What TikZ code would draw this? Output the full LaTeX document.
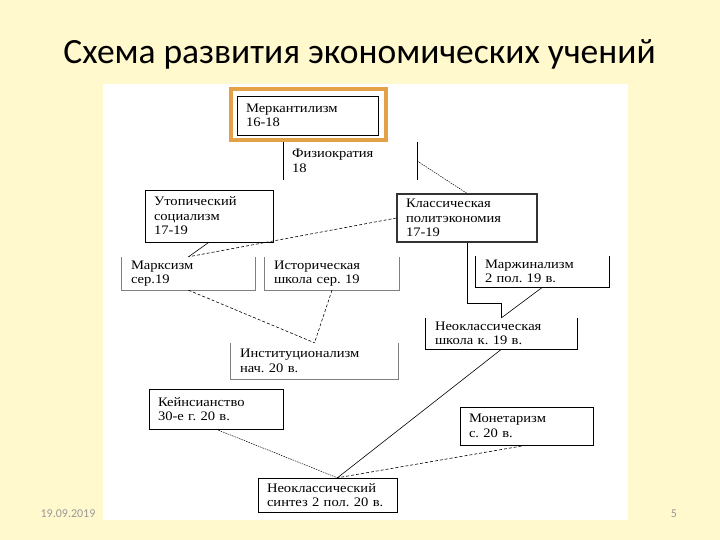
\documentclass[tikz,border=0pt]{standalone}
\usepackage{fontspec}
\setmainfont{Liberation Serif}
\newfontfamily\titlefont{Carlito}
\newfontfamily\boxfont[FakeStretch=1.12]{Liberation Serif}
\usetikzlibrary{calc}
\definecolor{slidebg}{RGB}{255,249,205}
\definecolor{framecol}{RGB}{228,162,72}
\frenchspacing
\begin{document}
\begin{tikzpicture}[x=1pt, y=-1pt,
    box/.style={draw, inner xsep=9pt, inner ysep=0pt, align=left, font={\boxfont\fontsize{13}{14.5}\selectfont}},
    ubox/.style={inner xsep=9pt, inner ysep=0pt, align=left, font={\boxfont\fontsize{13}{14.5}\selectfont}},
    link/.style={line width=0.6pt},
    dsh/.style={line width=0.6pt, dash pattern=on 3pt off 2pt},
    dots/.style={line width=0.5pt, dash pattern=on 1.5pt off 1pt}]
    \useasboundingbox (0,0) rectangle (720,540);
    \fill[slidebg] (0,0) rectangle (720,540);
    \fill[white] (103,84) rectangle (628,520);

    % Title and footer
    \node[anchor=base] (title) at (359.5,64) {\titlefont\fontsize{35.5}{40}\selectfont Схема развития экономических учений};
    \node[text=gray!80] (date) at (68,514) {\titlefont\fontsize{12}{14}\selectfont 19.09.2019};
    \node[text=gray!80] (page) at (674,514) {\titlefont\fontsize{12}{14}\selectfont 5};

    % Top row
    \node[box, text width=123, minimum height=39] (merc) at (307.5,115.5) {Меркантилизм\\16-18};
    \draw[framecol, line width=3.5pt] (merc.north west) ++(-6,-7) rectangle ($(merc.south east)+(8,5)$);
    \node[ubox, text width=116, minimum height=38] (phys) at (350,161) {Физиократия\\18};
    \draw[link] (phys.north west) -- (phys.south west); \draw[link] (phys.north east) -- (phys.south east);

    % Second row
    \node[box, text width=110, minimum height=52] (utop) at (209,216) {Утопический\\социализм\\17-19};
    \node[box, line width=1.2pt, draw=black!80, text width=122, minimum height=48] (class) at (467,218) {Классическая\\политэкономия\\17-19};

    % Third row
    \node[ubox, text width=115, minimum height=33] (marx) at (188.5,273.5) {Марксизм\\сер.19};
    \draw[gray, line width=1pt] (marx.north west) -- (marx.south west) -- (marx.south east) -- (marx.north east);
    \node[ubox, text width=116, minimum height=33] (hist) at (332,273.5) {Историческая\\школа сер. 19};
    \draw[gray, line width=1pt] (hist.north west) -- (hist.south west) -- (hist.south east) -- (hist.north east);
    \node[ubox, text width=115, minimum height=31] (marg) at (542.5,271.5) {Маржинализм\\2 пол. 19 в.};
    \draw[line width=1pt] (marg.north west) -- (marg.south west) -- (marg.south east) -- (marg.north east);

    % Fourth row
    \node[ubox, text width=133, minimum height=31] (neo) at (501.5,333.5) {Неоклассическая\\школа к. 19 в.};
    \draw[line width=1pt] (neo.north west) -- (neo.south west) -- (neo.south east) -- (neo.north east);
    \node[ubox, text width=149, minimum height=36] (inst) at (314.5,361) {Институционализм\\нач. 20 в.};
    \draw[gray, line width=1pt] (inst.north west) -- (inst.south west) -- (inst.south east) -- (inst.north east);

    % Bottom rows
    \node[box, text width=116, minimum height=40] (keyn) at (216,409) {Кейнсианство\\30-е г. 20 в.};
    \node[box, text width=115, minimum height=38] (monet) at (526.5,426) {Монетаризм\\с. 20 в.};
    \node[box, text width=121, minimum height=34] (synth) at (327.5,495) {Неоклассический\\синтез 2 пол. 20 в.};
    \coordinate (meet) at (synth.60);

    % Connections
    \draw[dots] (phys.east) -- (class.north);
    \draw[link] (utop.south) -- (marx.north);
    \draw[dsh] (class.west) -- (marx.north);
    \draw[dsh] (marx.south) -- (inst.north);
    \draw[dsh] (hist.south) -- (inst.north);
    \draw[link] (class.south) -- ++(0,61) -| (neo.north);
    \draw[link] (marg.south) -- (neo.north);
    \draw[link] (neo.south) -- (meet);
    \draw[dots] (keyn.south) -- (meet);
    \draw[dsh] (monet.south) -- (meet);
\end{tikzpicture}
\end{document}
